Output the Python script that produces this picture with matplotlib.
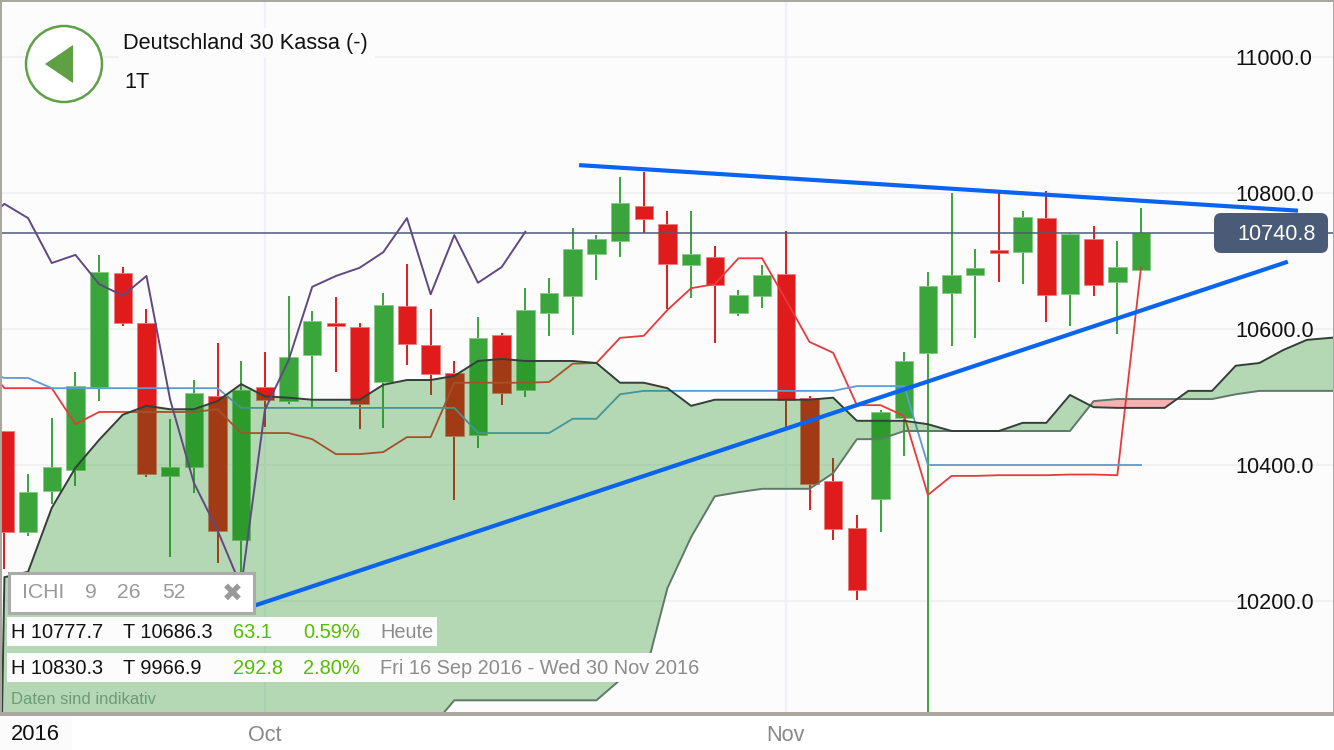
"""
Deutschland 30 daily candles with Ichimoku cloud, rebuilt from a trading app screenshot.
"""

import numpy as np
import matplotlib
matplotlib.use("Agg")
import matplotlib.pyplot as plt
from matplotlib.patches import Circle, FancyBboxPatch, Polygon, Rectangle

plt.rcParams["font.family"] = ["Liberation Sans", "DejaVu Sans"]

# daily candles, one per session
candle_open = [10450, 10301, 10362, 10393, 10515, 10682, 10609, 10384, 10397, 10501,
               10290, 10515, 10494, 10562, 10609, 10603, 10522, 10634, 10576, 10535,
               10444, 10591, 10510, 10624, 10649, 10710, 10729, 10781, 10754, 10694,
               10706, 10624, 10649, 10681, 10499, 10376, 10307, 10350, 10469, 10565,
               10653, 10679, 10716, 10713, 10763, 10651, 10732, 10669, 10686.3]
candle_close = [10301, 10360, 10397, 10516, 10684, 10609, 10387, 10397, 10506, 10303,
                10510, 10496, 10559, 10612, 10604, 10490, 10635, 10578, 10534, 10443,
                10587, 10506, 10628, 10653, 10718, 10732, 10785, 10762, 10696, 10710,
                10665, 10650, 10679, 10496, 10372, 10306, 10216, 10478, 10553, 10663,
                10679, 10690, 10712, 10765, 10650, 10740, 10665, 10691, 10740.8]
candle_high = [10450, 10387, 10469, 10537, 10709, 10691, 10629, 10468, 10525, 10579,
               10553, 10566, 10649, 10626, 10647, 10609, 10653, 10696, 10629, 10553,
               10618, 10594, 10660, 10675, 10749, 10738, 10824, 10831, 10774, 10774,
               10722, 10657, 10694, 10744, 10501, 10410, 10326, 10481, 10566, 10684,
               10800, 10718, 10800, 10774, 10803, 10741, 10751, 10729, 10777.7]
candle_low = [10247, 10296, 10343, 10369, 10494, 10604, 10382, 10265, 10359, 10256,
              10238, 10456, 10490, 10485, 10537, 10453, 10454, 10547, 10503, 10349,
              10425, 10488, 10500, 10590, 10591, 10672, 10706, 10741, 10629, 10646,
              10579, 10619, 10631, 10456, 10334, 10290, 10201, 10301, 10413, 9966.9,
              10575, 10587, 10669, 10666, 10610, 10604, 10649, 10593, 10686.3]

# ichimoku lines, these start one session before the first visible candle
tenkan = [10554, 10513, 10513, 10513, 10460, 10478, 10478, 10478, 10478, 10478,
          10482, 10447, 10447, 10447, 10438, 10416, 10416, 10419, 10441, 10441,
          10521, 10521, 10521, 10521, 10522, 10549, 10550, 10587, 10590, 10628,
          10660, 10666, 10704, 10704, 10643, 10581, 10565, 10488, 10488, 10472,
          10356, 10384, 10384, 10385, 10385, 10385, 10386, 10386, 10385, 10690]
kijun = [10540, 10528, 10528, 10513, 10513, 10513, 10513, 10513, 10513, 10513,
         10513, 10484, 10484, 10484, 10484, 10484, 10484, 10484, 10484, 10484,
         10484, 10447, 10447, 10447, 10447, 10468, 10468, 10504, 10509, 10509,
         10509, 10509, 10509, 10509, 10509, 10509, 10509, 10516, 10516, 10516,
         10400, 10400, 10400, 10400, 10400, 10400, 10400, 10400, 10400, 10400]
chikou = [10753, 10784, 10763, 10697, 10709, 10666, 10649, 10678, 10496, 10374,
          10304, 10221, 10481, 10554, 10662, 10678, 10690, 10713, 10763, 10651,
          10738, 10668, 10691, 10743]

# cloud runs on past the last candle, first entry closes its left edge
senkou_a = [10013, 10235, 10243, 10337, 10396, 10437, 10474, 10487, 10482, 10482,
            10494, 10519, 10501, 10499, 10496, 10496, 10496, 10518, 10525, 10525,
            10531, 10553, 10556, 10553, 10553, 10553, 10550, 10521, 10521, 10513,
            10487, 10496, 10496, 10496, 10496, 10496, 10499, 10465, 10465, 10465,
            10460, 10450, 10450, 10450, 10462, 10462, 10503, 10485, 10484, 10484,
            10484, 10509, 10509, 10546, 10550, 10569, 10584, 10587, 10590]
senkou_b = [10013, 10013, 10013, 10013, 10013, 10013, 10013, 10013, 10013, 10013,
            10013, 10013, 10013, 10013, 10013, 10013, 10013, 10013, 10013, 10013,
            10054, 10054, 10054, 10054, 10054, 10054, 10054, 10084, 10085, 10219,
            10294, 10354, 10360, 10365, 10365, 10365, 10388, 10438, 10438, 10450,
            10450, 10450, 10450, 10450, 10450, 10450, 10450, 10494, 10497, 10497,
            10497, 10497, 10497, 10504, 10509, 10509, 10509, 10509, 10509]

# hand drawn trend lines (session, price)
trend_upper_x = [24.27, 54.63]
trend_upper_y = [10841, 10774]
trend_lower_x = [10.54, 54.2]
trend_lower_y = [10193, 10699]

last_price = 10740.8
price_ticks = [10200, 10400, 10600, 10800, 11000]
month_ticks = [11, 33]
month_labels = ["Oct", "Nov"]

GREEN = "#3AA53A"
RED = "#E01B1B"

x_candles = np.arange(len(candle_open))
x_lines = np.arange(-1, len(tenkan) - 1)
x_chikou = np.arange(-1, len(chikou) - 1)
x_cloud = np.array([-0.11] + list(range(len(senkou_a) - 1)))
cloud_a = np.array(senkou_a)
cloud_b = np.array(senkou_b)

fig = plt.figure(figsize=(13.34, 7.5), dpi=100, facecolor="white")
ax = fig.add_axes([0, 38 / 750, 1, 712 / 750], facecolor="#FCFCFD")
ax.set_xlim(-0.186, 56.15)
ax.set_ylim(10036.8, 11083.8)
ax.set_axisbelow(True)
for spine in ax.spines.values():
    spine.set_visible(False)

# grid
ax.set_yticks(price_ticks)
ax.set_yticklabels([f"{p:.1f}" for p in price_ticks])
ax.set_xticks(month_ticks)
ax.set_xticklabels(month_labels)
ax.grid(axis="y", color="#F1F1F1", lw=1.5)
ax.grid(axis="x", color="#EFF1FA", lw=1.6)
ax.yaxis.tick_right()
ax.tick_params(axis="y", length=0, pad=-71, labelsize=15.6, labelcolor="#111111")
ax.tick_params(axis="x", length=0, pad=9.6, labelsize=15.6, labelcolor="#888888")

# candles
for i in x_candles:
    is_up = candle_close[i] >= candle_open[i]
    colour = GREEN if is_up else RED
    edge = "#86C886" if is_up else "#EC7C7C"
    ax.vlines(i, candle_low[i], candle_high[i], color=colour, lw=1.4, zorder=2)
    ax.bar(i, abs(candle_close[i] - candle_open[i]), bottom=min(candle_open[i], candle_close[i]),
           width=0.78, color=colour, edgecolor=edge, linewidth=0.6, zorder=2.2)

ax.axhline(last_price, color="#4A5B78", lw=1.1, zorder=2.5)
ax.plot(x_lines, tenkan, color="#E8393B", lw=1.3, zorder=3)
ax.plot(x_lines, kijun, color="#5B9BD5", lw=1.3, zorder=3)

# cloud goes over the candles so they show through darker
ax.fill_between(x_cloud, cloud_a, cloud_b, where=cloud_a >= cloud_b, interpolate=True,
                color=(13 / 255, 135 / 255, 10 / 255), alpha=0.3, lw=0, zorder=4)
ax.fill_between(x_cloud, cloud_a, cloud_b, where=cloud_a <= cloud_b, interpolate=True,
                color=(230 / 255, 30 / 255, 30 / 255), alpha=0.33, lw=0, zorder=4)
ax.plot(x_cloud, cloud_b, color="#5F7868", lw=1.4, zorder=5)
ax.plot(x_cloud, cloud_a, color="#333F38", lw=1.4, zorder=5)
ax.plot(x_chikou, chikou, color="#5E4A80", lw=1.4, zorder=5)

ax.plot(trend_upper_x, trend_upper_y, color="#0A64F0", lw=3, solid_capstyle="butt", zorder=6)
ax.plot(trend_lower_x, trend_lower_y, color="#0A64F0", lw=3, solid_capstyle="butt", zorder=6)

# app chrome on top, laid out in screen pixels
ui = fig.add_axes([0, 0, 1, 1])
ui.set_xlim(0, 1334)
ui.set_ylim(750, 0)
ui.axis("off")

border = "#A9A89F"
ui.add_patch(Rectangle((0, 0), 1334, 1.5, color=border, lw=0))
ui.add_patch(Rectangle((0, 0), 1.5, 714, color=border, lw=0))
ui.add_patch(Rectangle((1332.7, 0), 1.3, 714, color=border, lw=0))
ui.add_patch(Rectangle((0, 712), 1334, 4, color=border, lw=0))
ui.add_patch(Rectangle((0, 716), 72, 34, color="#FBFBFB", lw=0))

ui.text(11, 735, "2016", fontsize=15.8, color="#111111", va="center")

# back button and title
ui.add_patch(Circle((64, 64), 38, facecolor="white", edgecolor="#5FA044", lw=1.8))
ui.add_patch(Polygon([(45, 64), (73, 45), (73, 83)], closed=True, color="#5FA044", lw=0))
ui.add_patch(Rectangle((119, 28), 256, 30, color="#FCFCFD", lw=0))
ui.text(123, 43, "Deutschland 30 Kassa (-)", fontsize=15.7, color="#111111", va="center")
ui.text(124, 83, "1T", fontsize=15.7, color="#111111", va="center")

# last price tag
ui.add_patch(FancyBboxPatch((1217, 216), 108, 34, boxstyle="round,pad=0,rounding_size=4",
                            mutation_aspect=1, facecolor="#4A5B78", edgecolor="#4A5B78", lw=4.3))
ui.text(1237, 235, f"{last_price:.1f}", fontsize=15.6, color="white", va="center")

# indicator box
ui.add_patch(Rectangle((9, 573), 245, 40, facecolor="white", edgecolor="#ABABAB", lw=2.2))
for label, x in [("ICHI", 22), ("9", 85), ("26", 117), ("52", 162)]:
    ui.text(x, 593, label, fontsize=15.2, color="#999999", va="center")
ui.text(232, 594, "\u2716", fontsize=18, color="#999999", va="center", ha="center",
        family="DejaVu Sans")

# high/low rows
ui.add_patch(Rectangle((7, 617), 430, 29, color="#FCFCFC", lw=0))
ui.add_patch(Rectangle((7, 653), 693, 29, color="#FCFCFC", lw=0))
rows = [
    (633, "H 10777.7", "T 10686.3", "63.1", "0.59%", "Heute"),
    (669, "H 10830.3", "T 9966.9", "292.8", "2.80%", "Fri 16 Sep 2016 - Wed 30 Nov 2016"),
]
for y, high, low, change, pct, period in rows:
    ui.text(11, y, high, fontsize=14.4, color="#111111", va="center")
    ui.text(123, y, low, fontsize=14.4, color="#111111", va="center")
    ui.text(233, y, change, fontsize=14.4, color="#55BE00", va="center")
    ui.text(303, y, pct, fontsize=14.4, color="#55BE00", va="center")
    ui.text(380, y, period, fontsize=14.4, color="#8C8C8C", va="center")

ui.text(11, 700, "Daten sind indikativ", fontsize=12, color="#6F9A78", va="center")

fig.savefig("out.png", dpi=100)
